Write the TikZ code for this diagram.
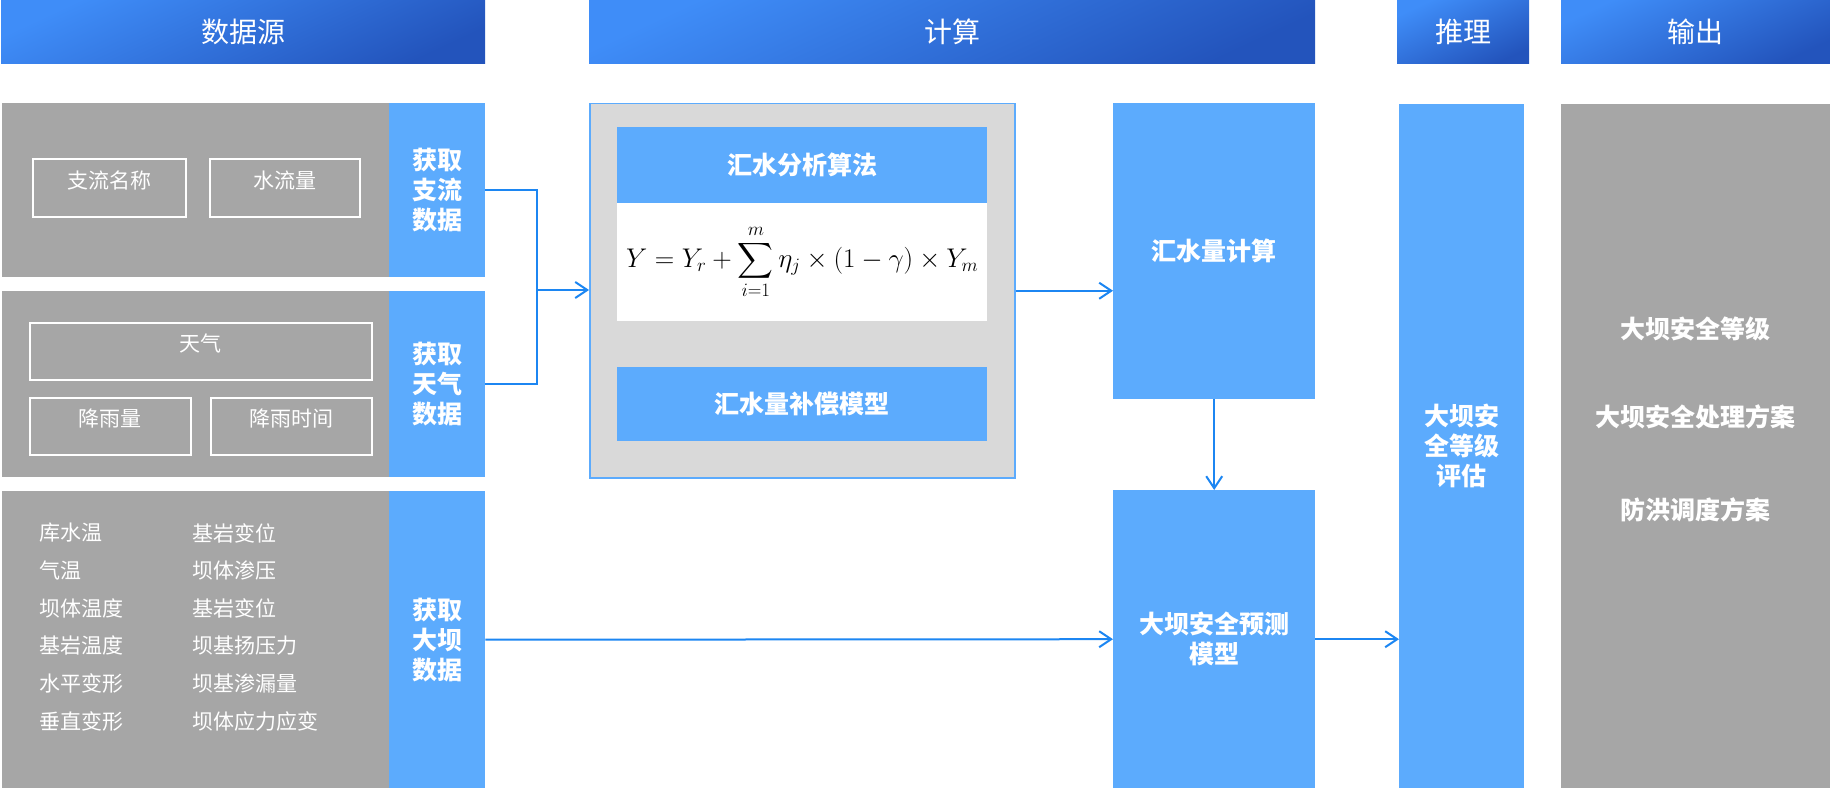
\RequirePackage{fix-cm}
\documentclass[tikz,border=0pt]{standalone}
\usepackage{exscale}
\usepackage[no-math]{fontspec}
\setmainfont{Noto Sans CJK SC}
\usetikzlibrary{arrows.meta}
\definecolor{hdrtop}{HTML}{3F8DF8}
\definecolor{hdrbot}{HTML}{2354BC}
\definecolor{boxblue}{HTML}{5CABFD}
\definecolor{boxgray}{HTML}{A6A6A6}
\definecolor{calcgray}{HTML}{D9D9D9}
\definecolor{linkblue}{HTML}{1C86F2}
\begin{document}
\begin{tikzpicture}[
  x=1pt, y=-1pt,
  font=\fontsize{21}{26}\selectfont,
  hdr/.style={anchor=north west, inner sep=0pt, minimum height=63pt, top color=hdrtop, bottom color=hdrbot, shading angle=25, text=white, font=\fontsize{28}{32}\selectfont},
  src/.style={anchor=north west, inner sep=0pt, fill=boxgray, minimum width=387pt},
  getbox/.style={anchor=north west, inner sep=0pt, fill=boxblue, minimum width=96pt, text=white, align=center, font=\fontsize{25}{30}\selectfont\bfseries},
  item/.style={anchor=north west, inner sep=0pt, draw=white, line width=1.5pt, minimum height=57pt, text=white, text height=18pt, text depth=17pt},
  fld/.style={anchor=west, inner sep=0pt, text=white},
  mdl/.style={anchor=north west, inner sep=0pt, fill=boxblue, text=white, align=center, font=\fontsize{25}{30}\selectfont\bfseries},
  res/.style={text=white, font=\fontsize{25}{30}\selectfont\bfseries},
  link/.style={draw=linkblue, line width=2pt},
  arr/.style={link, -{Straight Barb[length=12pt,width=16pt]}}
]
\useasboundingbox (0,0) rectangle (1830,789);
\node[hdr, minimum width=484pt] (hsrc) at (1,0) {数据源};
\node[hdr, minimum width=726pt] (hcalc) at (589,0) {计算};
\node[hdr, minimum width=132pt] (hinfer) at (1397,0) {推理};
\node[hdr, minimum width=269pt] (hout) at (1561,0) {输出};
\node[src, minimum height=174pt] (tribsrc) at (2,103) {};
\node[getbox, minimum height=174pt] (gettrib) at (389,103) {获取\\支流\\数据};
\node[item, minimum width=153pt, minimum height=58pt] (tribname) at (32,158) {支流名称};
\node[item, minimum width=150pt, minimum height=58pt] (flow) at (209,158) {水流量};
\node[src, minimum height=186pt] (wxsrc) at (2,291) {};
\node[getbox, minimum height=186pt] (getwx) at (389,291) {获取\\天气\\数据};
\node[item, minimum width=342pt] (wx) at (29,322) {天气};
\node[item, minimum width=161pt] (rain) at (29,397) {降雨量};
\node[item, minimum width=161pt] (raintime) at (210,397) {降雨时间};
\node[src, minimum height=297pt] (damsrc) at (2,491) {};
\node[getbox, minimum height=297pt] (getdam) at (389,491) {获取\\大坝\\数据};
\node[fld] (reswater) at (39,533) {库水温};
\node[fld] (airtemp) at (39,570.6) {气温};
\node[fld] (damtemp) at (39,608.2) {坝体温度};
\node[fld] (rocktemp) at (39,645.8) {基岩温度};
\node[fld] (hdef) at (39,683.4) {水平变形};
\node[fld] (vdef) at (39,721) {垂直变形};
\node[fld] (rockdisp) at (192,533) {基岩变位};
\node[fld] (seep) at (192,570.6) {坝体渗压};
\node[fld] (rockdisp2) at (192,608.2) {基岩变位};
\node[fld] (uplift) at (192,645.8) {坝基扬压力};
\node[fld] (leak) at (192,683.4) {坝基渗漏量};
\node[fld] (stress) at (192,721) {坝体应力应变};
\node[anchor=north west, inner sep=0pt, fill=calcgray, draw=boxblue, line width=1.5pt, minimum width=425pt, minimum height=374pt] (calc) at (589,103) {};
\node[mdl, minimum width=370pt, minimum height=76pt] (algo) at (617,127) {汇水分析算法};
\node[anchor=north west, inner sep=0pt, fill=white, minimum width=370pt, minimum height=118pt, font=\fontsize{27}{30}\selectfont] (eq) at (617,203) {$\displaystyle Y=Y_r+\sum_{i=1}^{m}\eta_j\times(1-\gamma)\times Y_m$};
\node[mdl, minimum width=370pt, minimum height=74pt] (comp) at (617,367) {汇水量补偿模型};
\node[mdl, minimum width=202pt, minimum height=296pt] (catch) at (1113,103) {汇水量计算};
\node[mdl, minimum width=202pt, minimum height=298pt] (predict) at (1113,490) {大坝安全预测\\模型};
\node[mdl, minimum width=125pt, minimum height=684pt] (assess) at (1399,104) {大坝安\\全等级\\评估};
\node[anchor=north west, inner sep=0pt, fill=boxgray, minimum width=269pt, minimum height=684pt] (out) at (1561,104) {};
\node[res] (level) at (1695,329) {大坝安全等级};
\node[res] (plan) at (1695,417) {大坝安全处理方案};
\node[res] (flood) at (1695,510) {防洪调度方案};
\coordinate (join) at (537,290);
\draw[link] (gettrib.east) -| (join);
\draw[link] (getwx.east) -| (join);
\draw[arr] (join) -- (join -| calc.west);
\draw[arr] (calc.east) -- (calc.east -| catch.west);
\draw[arr] (catch.south) -- (predict.north);
\draw[arr] (getdam.east) -- (predict.west);
\draw[arr] (predict.east) -- (predict.east -| assess.west);
\end{tikzpicture}
\end{document}
